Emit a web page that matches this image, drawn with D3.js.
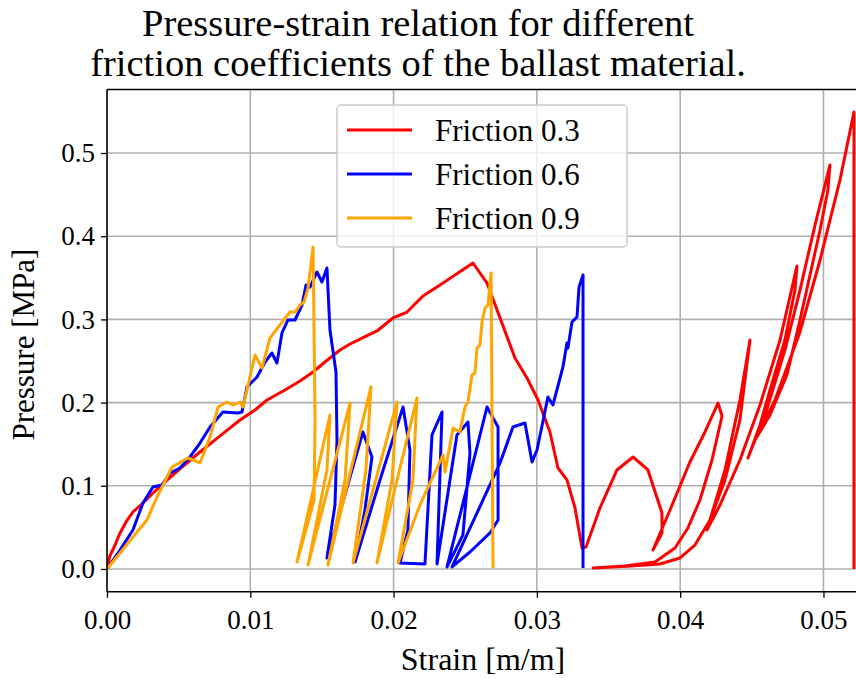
<!DOCTYPE html>
<html><head><meta charset="utf-8">
<script src="https://cdn.jsdelivr.net/npm/d3@7"></script>
<style>body{margin:0;background:#fff;} svg{display:block;}</style>
</head><body>
<svg id="c" width="856" height="678"></svg>
<script>
const titleLines = ["Pressure-strain relation for different", "friction coefficients of the ballast material."];
const xLabel = "Strain [m/m]";
const yLabel = "Pressure [MPa]";
const xTicks = [0, 0.01, 0.02, 0.03, 0.04, 0.05];
const yTicks = [0, 0.1, 0.2, 0.3, 0.4, 0.5];
const seriesNames = ["Friction 0.3", "Friction 0.6", "Friction 0.9"];
const seriesColors = ["#ff0000", "#0000ff", "#ffa500"];

const strain03 = [0,0.0002,0.00056,0.00091,0.00133,0.00181,0.00251,0.00321,0.00405,0.00509,0.00649,0.00789,0.00928,0.01033,0.01117,0.01242,0.01347,0.01438,0.01521,0.01626,0.01696,0.0178,0.01884,0.01996,0.02094,0.02205,0.02324,0.02554,0.02652,0.02743,0.02847,0.02931,0.03008,0.03091,0.03147,0.0321,0.03266,0.03315,0.03343,0.0344,0.03559,0.03671,0.03775,0.03873,0.03873,0.0381,
0.03929,0.04068,0.04173,0.04264,
0.04292,0.04222,0.04138,0.04054,0.03964,0.03824,0.03615,0.03392,
0.0365,0.03859,0.03999,0.04103,0.04208,0.04313,0.04417,0.04487,
0.04417,0.04313,0.04187,
0.04278,0.04417,0.04557,0.04697,0.04815,
0.04801,0.04731,0.04627,0.04557,0.04473,
0.04592,0.04731,0.04836,0.04941,0.05045,
0.05031,0.04976,0.04836,0.04745,0.04627,0.04522,
0.04662,0.04836,0.04976,0.05115,0.05213,0.05213];
const pressure03 = [0,0.0156,0.0288,0.0433,0.0565,0.0685,0.0793,0.0913,0.1046,0.1202,0.1406,0.1599,0.1791,0.1911,0.2031,0.2151,0.226,0.2368,0.2488,0.2632,0.2704,0.2776,0.2861,0.3017,0.3089,0.3281,0.3413,0.3678,0.3437,0.3017,0.2536,0.2296,0.2031,0.1647,0.1214,0.107,0.0733,0.0252,0.0264,0.0733,0.119,0.1346,0.119,0.0673,0.0433,0.0228,
0.0709,0.1286,0.1647,0.1995,
0.1839,0.131,0.0829,0.0493,0.0252,0.0084,0.0036,0.0012,
0.0036,0.006,0.0132,0.0288,0.0589,0.107,0.1791,0.2752,
0.2031,0.119,0.0469,
0.0769,0.131,0.1971,0.2752,0.3642,
0.3353,0.2752,0.2151,0.1731,0.1334,
0.1851,0.2632,0.3353,0.4134,0.4856,
0.4555,0.4075,0.2993,0.2332,0.1851,0.155,
0.2031,0.2849,0.3714,0.4675,0.5493,0];

const strain06 = [0,0.00091,0.00181,0.00251,0.00321,0.00384,0.0044,0.00509,0.00579,0.00649,0.00719,0.00809,0.00914,0.00942,0.00977,0.01047,0.01103,0.01151,0.01186,0.01221,0.01263,0.01312,0.01361,0.01389,0.01417,0.01465,0.015,0.01535,0.01556,0.01598,0.01605,0.01591,0.01535,0.01786,0.01849,0.018,0.01731,0.01905,0.02066,0.02114,0.021,0.02045,0.02219,0.02268,0.02338,0.02303,0.02442,0.02519,0.02533,0.02484,0.02373,0.02652,0.02729,0.02729,0.02673,0.02533,0.02408,0.02743,0.02833,0.02917,0.02966,0.03001,0.03077,0.03112,0.03182,0.0321,0.03217,0.03245,0.0328,0.03294,0.03322,0.03322];
const pressure06 = [0,0.0228,0.0469,0.0793,0.0986,0.101,0.1154,0.1214,0.1346,0.1514,0.1707,0.1887,0.1875,0.1887,0.2188,0.2308,0.2488,0.2596,0.2476,0.2837,0.2993,0.2993,0.3173,0.3413,0.3389,0.357,0.345,0.3618,0.2873,0.2368,0.155,0.0769,0.0132,0.1647,0.1346,0.0709,0.0084,0.107,0.1947,0.143,0.0469,0.0072,0.006,0.1611,0.1887,0.006,0.1611,0.1767,0.1394,0.0409,0.0024,0.1947,0.1707,0.0589,0.0433,0.0204,0.0024,0.1274,0.1707,0.1755,0.1286,0.143,0.2067,0.1971,0.2428,0.2716,0.2656,0.2969,0.3029,0.3389,0.3534,0.0012];

const strain09 = [0,0.00091,0.00181,0.00279,0.00349,0.00454,0.00565,0.00649,0.00719,0.00775,0.00837,0.00879,0.00928,0.00949,0.01033,0.01082,0.01137,0.01207,0.01277,0.01312,0.01347,0.01375,0.01403,0.01438,0.01452,0.01445,0.01326,0.01556,0.01535,0.01403,0.01696,0.01661,0.01542,0.01842,0.01807,0.01717,0.02024,0.01989,0.01884,0.02163,0.02135,0.02031,0.02184,0.02345,0.02359,0.02415,0.02463,0.02498,0.02519,0.02547,0.02568,0.02582,0.02603,0.02617,0.02638,0.02659,0.0268,0.02694];
const pressure09 = [0,0.0192,0.0385,0.0589,0.0865,0.1226,0.1334,0.1274,0.1587,0.1947,0.2007,0.1971,0.2007,0.1947,0.2572,0.2416,0.2776,0.2933,0.3089,0.3089,0.3173,0.3209,0.3377,0.387,0.1791,0.0829,0.0084,0.1851,0.119,0.0048,0.1995,0.107,0.0048,0.2188,0.119,0.0072,0.2007,0.107,0.0072,0.2055,0.107,0.0072,0.0769,0.137,0.1166,0.1695,0.1647,0.1947,0.2007,0.2332,0.2356,0.2656,0.2692,0.2969,0.3137,0.3173,0.3558,0.0012];

const seriesData = [[strain03, pressure03], [strain06, pressure06], [strain09, pressure09]];

const FONT = "'Liberation Serif', 'Times New Roman', serif";
const svg = d3.select("#c");
const L = 107, T = 89.4, R = 859.3, B = 591.8;
const x = d3.scaleLinear().domain([0, 0.0525]).range([L, R]);
const y = d3.scaleLinear().domain([-0.02745, 0.5765]).range([B, T]);

svg.append("defs").append("clipPath").attr("id", "clip")
  .append("rect").attr("x", L).attr("y", T).attr("width", R - L).attr("height", B - T);

// grid
const grid = svg.append("g");
grid.selectAll("line.gx").data(xTicks).join("line")
  .attr("x1", d => x(d)).attr("x2", d => x(d)).attr("y1", T).attr("y2", B)
  .attr("stroke", "#b0b0b0").attr("stroke-width", 1.6);
grid.selectAll("line.gy").data(yTicks).join("line").attr("class","gy")
  .attr("x1", L).attr("x2", R).attr("y1", d => y(d)).attr("y2", d => y(d))
  .attr("stroke", "#b0b0b0").attr("stroke-width", 1.6);

// lines
const line = d3.line().x(d => x(d[0])).y(d => y(d[1]));
const plot = svg.append("g").attr("clip-path", "url(#clip)");
seriesData.forEach((s, i) => {
  const pts = d3.zip(s[0], s[1]);
  plot.append("path").datum(pts).attr("d", line)
    .attr("fill", "none").attr("stroke", seriesColors[i]).attr("stroke-width", 3)
    .attr("stroke-linejoin", "round").attr("stroke-linecap", "butt");
});

// axes
const xAxis = d3.axisBottom(x).tickValues(xTicks).tickFormat(d3.format(".2f")).tickSize(6).tickPadding(6);
const yAxis = d3.axisLeft(y).tickValues(yTicks).tickFormat(d3.format(".1f")).tickSize(6).tickPadding(6);
const gx = svg.append("g").attr("transform", `translate(0,${B})`).call(xAxis);
const gy = svg.append("g").attr("transform", `translate(${L},0)`).call(yAxis);
[gx, gy].forEach(g => {
  g.select(".domain").remove();
  g.selectAll(".tick line").attr("stroke", "#000").attr("stroke-width", 1.3);
  g.selectAll(".tick text").attr("font-family", FONT).attr("font-size", 27).attr("fill", "#000");
});
gx.selectAll(".tick text").attr("dy", "0.95em");
// spines
svg.append("line").attr("x1", L).attr("x2", L).attr("y1", T).attr("y2", B).attr("stroke", "#000").attr("stroke-width", 1.5);
svg.append("line").attr("x1", L).attr("x2", R).attr("y1", B).attr("y2", B).attr("stroke", "#000").attr("stroke-width", 1.5);
svg.append("line").attr("x1", L).attr("x2", R).attr("y1", T).attr("y2", T).attr("stroke", "#000").attr("stroke-width", 1.5);
svg.append("line").attr("x1", R).attr("x2", R).attr("y1", T).attr("y2", B).attr("stroke", "#000").attr("stroke-width", 1.5);

// labels
svg.append("text").attr("x", 483).attr("y", 670).attr("text-anchor", "middle")
  .attr("font-family", FONT).attr("font-size", 32).text(xLabel);
svg.append("text").attr("transform", `translate(34,${(T + B) / 2 + 4}) rotate(-90)`).attr("text-anchor", "middle")
  .attr("font-family", FONT).attr("font-size", 31).text(yLabel);

// title
titleLines.forEach((t, i) => {
  svg.append("text").attr("x", 418).attr("y", 36 + i * 40).attr("text-anchor", "middle")
    .attr("font-family", FONT).attr("font-size", 38.5).text(t);
});

// legend
const lg = svg.append("g");
lg.append("rect").attr("x", 337).attr("y", 105).attr("width", 290).attr("height", 142).attr("rx", 4)
  .attr("fill", "#fff").attr("fill-opacity", 0.8).attr("stroke", "#cccccc").attr("stroke-width", 1.5);
seriesNames.forEach((n, i) => {
  const yy = 130 + i * 44;
  lg.append("line").attr("x1", 347).attr("x2", 412).attr("y1", yy).attr("y2", yy)
    .attr("stroke", seriesColors[i]).attr("stroke-width", 3);
  lg.append("text").attr("x", 435).attr("y", yy).attr("dy", "0.35em")
    .attr("font-family", FONT).attr("font-size", 31).text(n);
});
</script>
</body></html>
